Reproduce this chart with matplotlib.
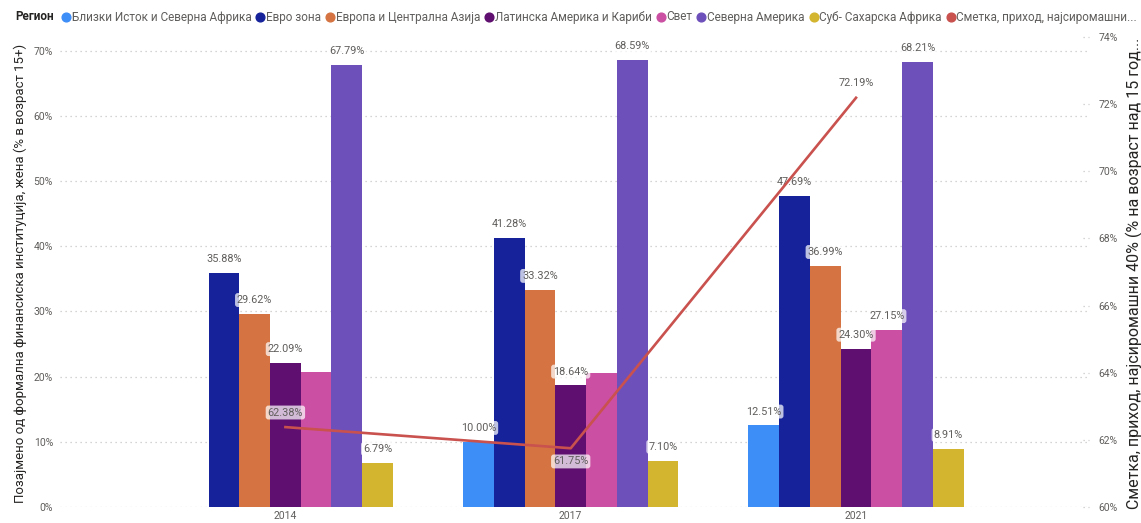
import matplotlib
matplotlib.use("Agg")
import matplotlib.pyplot as plt
import matplotlib.transforms as mtransforms
import numpy as np

plt.rcParams['font.family'] = ['Roboto', 'DejaVu Sans']

# ---------------- data ----------------
years = ['2014', '2017', '2021']
regions = ['Близки Исток и Северна Африка', 'Евро зона', 'Европа и Централна Азија',
           'Латинска Америка и Кариби', 'Свет', 'Северна Америка', 'Суб- Сахарска Африка']
mena = [np.nan, 10.00, 12.51]
euro_area = [35.88, 41.28, 47.69]
europe_ca = [29.62, 33.32, 36.99]
latam = [22.09, 18.64, 24.30]
world = [20.65, 20.60, 27.15]
north_america = [67.79, 68.59, 68.21]
ssa = [6.79, 7.10, 8.91]
world_labelled = [False, False, True]
line_name = 'Сметка, приход, најсиромашни...'
account_poorest40 = [62.38, 61.75, 72.19]

left_ticks = [0, 10, 20, 30, 40, 50, 60, 70]
right_ticks = [60, 62, 64, 66, 68, 70, 72, 74]
left_label = 'Позајмено од формална финансиска институција, жена (% в возраст 15+)'
right_label = 'Сметка, приход, најсиромашни 40% (% на возраст над 15 год...'

colors = ['#3E8EF7', '#15229A', '#D57442', '#5F0F6F', '#CB4FA2', '#6E50BB', '#D4B52F']
line_color = '#C9514E'
text_gray = '#605E5C'

series = [mena, euro_area, europe_ca, latam, world, north_america, ssa]

# ---------------- figure ----------------
W, H = 1141, 523
fig = plt.figure(figsize=(W / 100, H / 100), dpi=100)
ax = fig.add_axes([60 / W, 16 / H, 1030 / W, 470 / H])
ax2 = ax.twinx()

x = np.arange(len(years))
bw = 0.1077
n = len(series)

bbox_style = dict(boxstyle='round,pad=0.18,rounding_size=0.25', fc='white', ec='none', alpha=0.72)

for i, (vals, col) in enumerate(zip(series, colors)):
    xs = x + (i - (n - 1) / 2) * bw
    ax.bar(xs, vals, width=bw, color=col, zorder=2)
    for j, (xx, v) in enumerate(zip(xs, vals)):
        if np.isnan(v):
            continue
        if i == 4 and not world_labelled[j]:
            continue
        ax.annotate(f'{v:.2f}%', (xx, v), xytext=(0, 10), textcoords='offset points',
                    ha='center', va='center', fontsize=7.8, color=text_gray,
                    bbox=bbox_style, zorder=5)

ax.set_xlim(-0.79, 2.82)
ax.set_ylim(0, 72.1)
ax.set_xticks(x)
ax.set_xticklabels(years)
ax.set_yticks(left_ticks)
ax.set_yticklabels([f'{t}%' for t in left_ticks])
ax.grid(axis='y', color='#C8C6C4', linestyle=(0, (1, 3)), linewidth=0.9, zorder=0)
ax.set_axisbelow(True)
ax.tick_params(axis='both', length=0, labelsize=7.5, colors=text_gray)
ax.tick_params(axis='y', pad=5)
ax.tick_params(axis='x', pad=3)
for s in ax.spines.values():
    s.set_visible(False)

ax2.plot(x, account_poorest40, color=line_color, linewidth=1.9, zorder=4)
ax2.set_ylim(60, 74)
ax2.set_yticks(right_ticks)
ax2.set_yticklabels([f'{t}%' for t in right_ticks])
ax2.tick_params(axis='y', length=0, labelsize=7.5, colors=text_gray, pad=6)
for s in ax2.spines.values():
    s.set_visible(False)
trans = mtransforms.blended_transform_factory(ax2.transAxes, ax2.transData)
for t in right_ticks:
    ax2.plot([0.993, 0.999], [t, t], transform=trans, color='#C8C6C4',
             linestyle=(0, (1, 3)), linewidth=0.9, clip_on=False)
line_offsets = [10.5, -9.5, 10.5]
for xx, v, off in zip(x, account_poorest40, line_offsets):
    ax2.annotate(f'{v:.2f}%', (xx, v), xytext=(0, off), textcoords='offset points',
                 ha='center', va='center', fontsize=7.8, color=text_gray,
                 bbox=bbox_style, zorder=6)

fig.canvas.draw()
renderer = fig.canvas.get_renderer()


def fitted_vertical(xpix, ymid, text, target_len):
    t = fig.text(xpix / W, ymid / H, text, rotation=90, ha='center', va='center',
                 fontsize=10, color='#252423')
    h = t.get_window_extent(renderer).height
    t.set_fontsize(10 * target_len / h)
    return t


fitted_vertical(20, 250, left_label, 460)   # spans y 43..503 in pixels from top
fitted_vertical(1134, 250, right_label, 470)


# ---------------- legend (manual, single row) ----------------
def draw_legend(fs):
    arts = []
    ly = 1 - 17 / H
    lx = 15
    k = fs / 7.5
    t = fig.text(lx / W, ly, 'Регион', fontsize=fs, fontweight='bold', color='#252423',
                 ha='left', va='center')
    arts.append(t)
    lx += t.get_window_extent(renderer).width + 7 * k
    for name, col in list(zip(regions, colors)) + [(line_name, line_color)]:
        m = plt.Line2D([(lx + 4 * k) / W], [ly], marker='o', markersize=6.3,
                       color=col, linestyle='none', transform=fig.transFigure)
        fig.add_artist(m)
        arts.append(m)
        t = fig.text((lx + 9 * k) / W, ly, name, fontsize=fs, color=text_gray,
                     ha='left', va='center')
        arts.append(t)
        end = lx + 9 * k + t.get_window_extent(renderer).width
        lx = end + 4 * k
    return arts, end


arts, end = draw_legend(7.5)
for a in arts:
    a.remove()
fs = 7.5 * (1136 - 15) / (end - 15)
draw_legend(fs)

fig.savefig('out.png', dpi=100)
